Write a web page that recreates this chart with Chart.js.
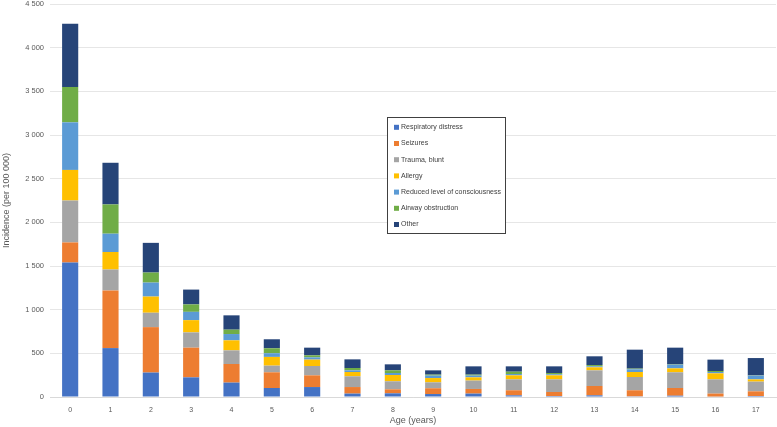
<!DOCTYPE html>
<html><head><meta charset="utf-8">
<script src="https://cdn.jsdelivr.net/npm/chart.js@4"></script>
<style>html,body{margin:0;padding:0;background:#fff}#wrap{width:777px;height:427px;position:relative}</style>
</head><body><div id="wrap"><canvas id="c" width="777" height="427"></canvas></div>
<script>
const ages = ["0","1","2","3","4","5","6","7","8","9","10","11","12","13","14","15","16","17"];
const seriesNames = ["Respiratory distress","Seizures","Trauma, blunt","Allergy","Reduced level of consciousness","Airway obstruction","Other"];
const respiratory = [1540,560,280,225,165,103,114,39,42,34,39,19,11,19,8,15,5,11];
const seizures    = [230,660,520,340,213,180,134,75,46,66,53,58,46,107,69,88,34,54];
const trauma      = [480,240,165,175,156,76,107,123,92,68,96,125,145,179,152,180,163,111];
const allergy     = [350,200,185,140,115,100,73,49,72,49,37,46,46,35,57,45,69,26];
const reduced     = [545,210,160,95,72,42,26,19,23,28,20,15,12,11,31,42,15,43];
const airway      = [405,335,115,85,50,57,23,27,30,11,11,27,15,15,8,4,12,3];
const other       = [725,477,340,170,164,103,88,99,69,49,95,61,76,100,217,191,130,198];
const yTicks = [0,500,1000,1500,2000,2500,3000,3500,4000,4500];
const colors = ["#4472C4","#ED7D31","#A5A5A5","#FFC000","#5B9BD5","#70AD47","#264478"];
const values = [respiratory,seizures,trauma,allergy,reduced,airway,other];
const FONT = '"Liberation Sans", Arial, sans-serif';

const legendPlugin = {
  id:'boxLegend',
  afterDraw(chart){
    const ctx = chart.ctx;
    const x0=387.5,y0=117.5,w=118,h=116;
    ctx.save();
    ctx.fillStyle='#fff';ctx.fillRect(x0,y0,w,h);
    ctx.strokeStyle='#404040';ctx.lineWidth=1;ctx.strokeRect(x0,y0,w,h);
    ctx.font='7px '+FONT;
    ctx.textBaseline='middle';
    chart.data.datasets.forEach((ds,i)=>{
      const y=127.3+i*16.2;
      ctx.fillStyle=ds.backgroundColor;
      ctx.fillRect(394,y-2.5,5,5);
      ctx.fillStyle='#404040';
      ctx.fillText(ds.label,401,y);
    });
    ctx.restore();
  }
};

new Chart(document.getElementById('c'),{
  type:'bar',
  data:{labels:ages,datasets:seriesNames.map((n,i)=>({label:n,data:values[i],backgroundColor:colors[i],borderWidth:0,barPercentage:0.4,categoryPercentage:1}))},
  options:{
    responsive:false,animation:false,
    layout:{padding:{top:0,right:1,left:1,bottom:0}},
    plugins:{legend:{display:false},tooltip:{enabled:false}},
    scales:{
      x:{stacked:true,
        grid:{display:false},
        border:{color:'#D9D9D9'},
        ticks:{color:'#595959',font:{size:7,family:FONT},padding:1,maxRotation:0},
        title:{display:true,text:'Age (years)',color:'#595959',font:{size:9,family:FONT},padding:{top:0,bottom:1}},
        afterFit(s){s.height=30;}
      },
      y:{stacked:true,min:0,max:4500,
        afterBuildTicks(s){s.ticks=yTicks.map(v=>({value:v}));},
        grid:{color:'#E6E6E6',drawTicks:false},
        border:{display:false},
        ticks:{color:'#595959',font:{size:7.5,family:FONT},padding:6,
          callback:v=>v>=1000?Math.floor(v/1000)+' '+String(v%1000).padStart(3,'0'):String(v)},
        title:{display:true,text:'Incidence (per 100 000)',color:'#595959',font:{size:9,family:FONT},padding:{top:0,bottom:2}},
        afterFit(s){s.width=49;s.paddingTop=4;s.paddingBottom=0;}
      }
    }
  },
  plugins:[legendPlugin]
});
</script></body></html>
